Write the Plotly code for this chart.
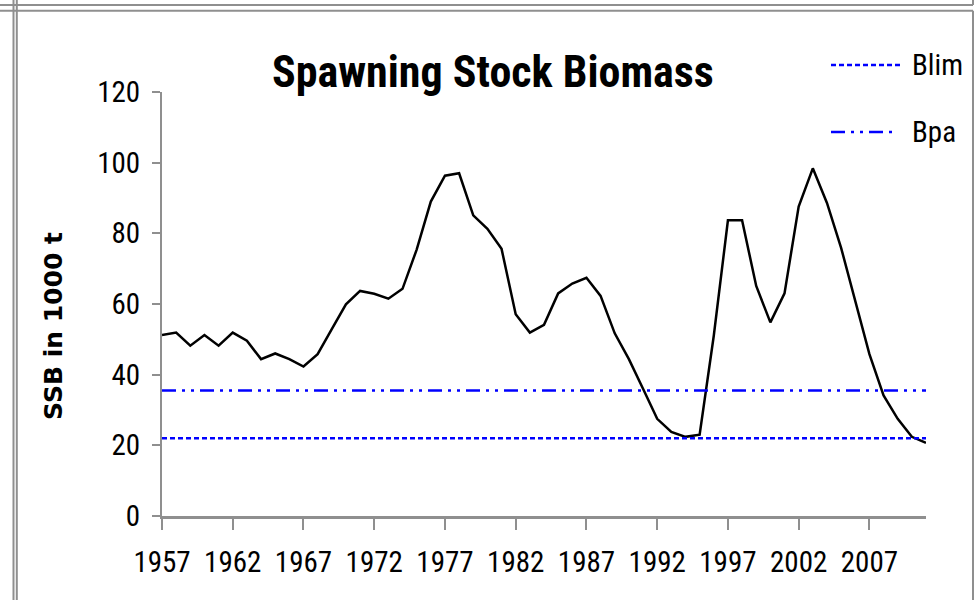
import plotly.graph_objects as go

years = list(range(1957, 2012))
ssb = [51.2, 51.9, 48.2, 51.2, 48.2, 51.9, 49.6, 44.4, 46.0, 44.4,
       42.3, 45.8, 52.9, 59.9, 63.7, 62.9, 61.5, 64.3, 75.4, 89.0,
       96.3, 97.0, 85.1, 81.3, 75.6, 57.1, 51.9, 54.1, 63.0, 65.8,
       67.4, 62.3, 51.7, 44.4, 36.0, 27.5, 23.8, 22.4, 23.0, 51.0,
       83.7, 83.7, 65.1, 54.8, 63.0, 87.6, 98.4, 88.6, 75.9, 60.8,
       45.8, 34.1, 27.5, 22.4, 20.7]
blim = 22.0
bpa = 35.5
y_ticks = [0, 20, 40, 60, 80, 100, 120]

W, H = 978, 600
ML, MR, MT, MB = 162, 52, 92, 84
PW = W - ML - MR
PH = H - MT - MB

def px(x):
    return (x - ML) / PW

def py(y):
    return (H - MB - y) / PH

NARROW = "Liberation Sans Narrow, Arial Narrow, Roboto Condensed, sans-serif"
BLIM_DASH = "5px,3px"
BPA_DASH = "14px,6px,3px,6px,3px,6px"

fig = go.Figure()
fig.add_trace(go.Scatter(x=years, y=ssb, mode="lines", name="SSB",
                         line=dict(color="black", width=2.5), showlegend=False))
fig.add_trace(go.Scatter(x=[years[0], years[-1]], y=[blim, blim], mode="lines", name="Blim",
                         line=dict(color="#0000ff", width=2.5, dash=BLIM_DASH), showlegend=False))
fig.add_trace(go.Scatter(x=[years[0], years[-1]], y=[bpa, bpa], mode="lines", name="Bpa",
                         line=dict(color="#0000ff", width=2.5, dash=BPA_DASH), showlegend=False))

shapes = []
gray = "#8f8f8f"
def hline(x0, x1, y, w=2):
    shapes.append(dict(type="line", xref="paper", yref="paper", x0=px(x0), x1=px(x1),
                       y0=py(y), y1=py(y), line=dict(color=gray, width=w)))
def vline(x, y0, y1, w=2):
    shapes.append(dict(type="line", xref="paper", yref="paper", x0=px(x), x1=px(x),
                       y0=py(y0), y1=py(y1), line=dict(color=gray, width=w)))

hline(0, 973, 5)
hline(0, 973, 10.7)
vline(13.5, 0, 600)
vline(16.8, 0, 600)
vline(973, 0, 5)
vline(973, 10.7, 600)

# legend samples
shapes.append(dict(type="line", xref="paper", yref="paper", x0=px(831), x1=px(902),
                   y0=py(65), y1=py(65), line=dict(color="#0000ff", width=2.5, dash=BLIM_DASH)))
shapes.append(dict(type="line", xref="paper", yref="paper", x0=px(831), x1=px(896),
                   y0=py(132), y1=py(132), line=dict(color="#0000ff", width=2.5, dash=BPA_DASH)))

annotations = [
    dict(text="Blim", xref="paper", yref="paper", x=px(910), y=py(65), xanchor="left",
         yanchor="middle", showarrow=False, font=dict(family=NARROW, size=29, color="black")),
    dict(text="Bpa", xref="paper", yref="paper", x=px(910), y=py(132), xanchor="left",
         yanchor="middle", showarrow=False, font=dict(family=NARROW, size=29, color="black")),
    dict(text="<b>SSB in 1000 t</b>", xref="paper", yref="paper", x=px(53), y=py(326),
         xanchor="center", yanchor="middle", textangle=-90, showarrow=False,
         font=dict(family="DejaVu Sans, Verdana, sans-serif", size=25, color="black")),
    dict(text="<b>Spawning Stock Biomass</b>", xref="paper", yref="paper", x=px(493), y=py(72),
         xanchor="center", yanchor="middle", showarrow=False,
         font=dict(family=NARROW, size=44, color="black")),
]

fig.update_layout(
    width=W, height=H,
    margin=dict(l=ML, r=MR, t=MT, b=MB),
    paper_bgcolor="white", plot_bgcolor="white",
    shapes=shapes, annotations=annotations,
    showlegend=False,
)
fig.update_xaxes(range=[1957, 2011], tickmode="array", tickvals=years[::5],
                 ticktext=[str(y) for y in years[::5]],
                 showgrid=False, zeroline=False, showline=True, linecolor=gray, linewidth=3,
                 ticks="outside", ticklen=11, tickwidth=2, tickcolor=gray,
                 ticklabelstandoff=7,
                 tickfont=dict(family=NARROW, size=29, color="black"))
fig.update_yaxes(range=[0, 120], tickmode="array", tickvals=y_ticks,
                 showgrid=False, zeroline=False, showline=True, linecolor=gray, linewidth=2,
                 ticks="outside", ticklen=8, tickwidth=2, tickcolor=gray,
                 ticklabelstandoff=6,
                 tickfont=dict(family=NARROW, size=29, color="black"))

fig.write_html("out.html", config={"displayModeBar": False},
               post_script="document.body.style.margin='0';document.body.style.overflow='hidden';")
